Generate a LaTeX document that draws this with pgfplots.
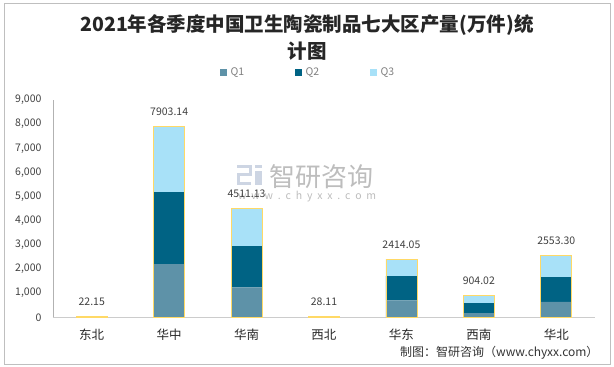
\documentclass[border=0pt]{standalone}
\usepackage{pgfplots}
\pgfplotsset{compat=1.18}
\usepackage{fontspec}
\setmainfont{Noto Sans CJK SC}
\definecolor{qa}{HTML}{5E92A8}
\definecolor{qb}{HTML}{006384}
\definecolor{qc}{HTML}{A8E1F8}
\definecolor{outl}{HTML}{FFD966}
\definecolor{txt}{HTML}{404040}
\definecolor{logo}{HTML}{CDD5E3}
\definecolor{wm}{HTML}{BDBDBD}
\begin{document}
\begin{tikzpicture}[x=1pt,y=1pt]
\draw[gray!50, line width=0.8pt] (4,3) rectangle (610,364);
\node[font=\fontsize{19.5}{22}\selectfont\bfseries, text=black!85] at (307,342) {2021年各季度中国卫生陶瓷制品七大区产量(万件)统};
\node[font=\fontsize{19.5}{22}\selectfont\bfseries, text=black!85] at (307,316) {计图};
% legend
\fill[qa] (220,291) rectangle (227,298);
\node[anchor=west, font=\fontsize{10.5}{11}\selectfont, text=gray] at (227,294.5) {Q1};
\fill[qb] (295,291) rectangle (302,298);
\node[anchor=west, font=\fontsize{10.5}{11}\selectfont, text=gray] at (302,294.5) {Q2};
\fill[qc] (370,291) rectangle (377,298);
\node[anchor=west, font=\fontsize{10.5}{11}\selectfont, text=gray] at (377,294.5) {Q3};
% watermark logo
\fill[logo] (237,199) rectangle (252,202);
\fill[logo] (249,191) rectangle (252,202);
\fill[logo] (240,191) rectangle (252,194);
\fill[logo] (237,182) rectangle (240,194);
\fill[logo] (237,182) rectangle (251,185);
\fill[logo] (255,182) rectangle (262,196);
\fill[logo] (255,199) rectangle (262,202);
\node[anchor=west, inner sep=0pt, font=\fontsize{26}{27}\selectfont, text=wm] at (269,190) {智研咨询};
\node[anchor=west, inner sep=0pt, font=\fontsize{10.5}{11}\selectfont, text=wm] at (238,170) {\makebox[138pt][s]{w\hfill w\hfill w\hfill .\hfill c\hfill h\hfill y\hfill x\hfill x\hfill .\hfill c\hfill o\hfill m}};
% source
\node[anchor=east, font=\fontsize{12}{13}\selectfont, text=black!80] at (602,14) {制图：智研咨询（www.chyxx.com）};
\begin{axis}[
  at={(53pt,49.7pt)}, anchor=south west, scale only axis,
  width=542pt, height=217.3pt,
  xmin=-0.5, xmax=6.5, ymin=0, ymax=9000,
  ybar stacked, bar width=31pt,
  axis x line*=bottom, axis y line*=left,
  x axis line style={draw=gray!40,-}, y axis line style={draw=gray!60,-},
  major tick length=0pt,
  xtick={0,...,6}, xticklabels={东北,华中,华南,西北,华东,西南,华北},
  ytick={0,1000,...,9000},
  /pgf/number format/assume math mode=true,
  /pgf/number format/1000 sep={,},
  scaled y ticks=false,
  yticklabel style={font=\fontsize{10.5}{11}\selectfont, text=txt, xshift=-8pt},
  xticklabel style={font=\fontsize{12.5}{13}\selectfont, text=black!85, yshift=-8pt},
]
\addplot[fill=qa, draw=none] coordinates {(0,8)(1,2207)(2,1242)(3,10)(4,704)(5,178)(6,634)};
\addplot[fill=qb, draw=none] coordinates {(0,7)(1,2981)(2,1710)(3,9)(4,1006)(5,414)(6,1035)};
\addplot[fill=qc, draw=none] coordinates {(0,7.15)(1,2715.14)(2,1559.13)(3,9.11)(4,704.05)(5,312.02)(6,884.30)};
\end{axis}
\begin{axis}[
  at={(53pt,49.7pt)}, anchor=south west, scale only axis,
  width=542pt, height=217.3pt,
  xmin=-0.5, xmax=6.5, ymin=0, ymax=9000,
  ybar, bar width=31pt, hide axis,
  nodes near coords, point meta=explicit symbolic,
  every node near coord/.append style={font=\fontsize{10.5}{11}\selectfont, text=txt, yshift=7pt},
]
\addplot[fill=none, draw=outl, line width=0.8pt] coordinates {(0,22.15)[22.15] (1,7903.14)[7903.14] (2,4511.13)[4511.13] (3,28.11)[28.11] (4,2414.05)[2414.05] (5,904.02)[904.02] (6,2553.30)[2553.30]};
\end{axis}
\pgfresetboundingbox
\useasboundingbox (0,0) rectangle (614,367);
\end{tikzpicture}
\end{document}
